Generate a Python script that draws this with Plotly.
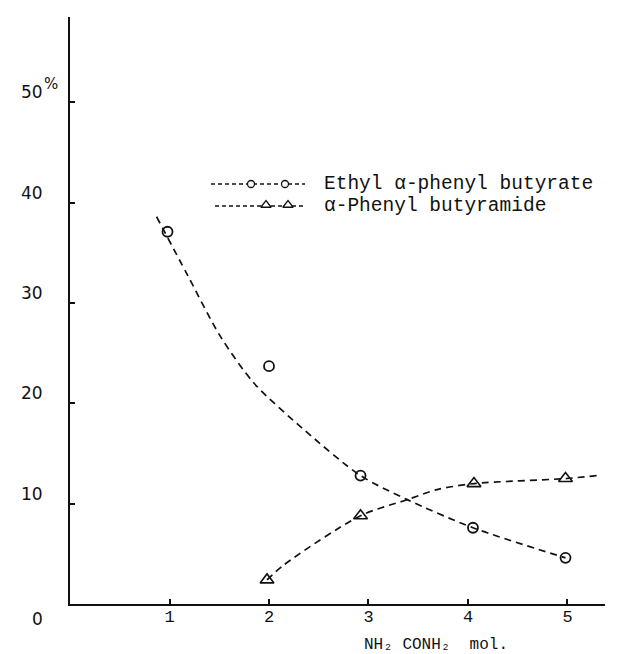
import plotly.graph_objects as go

# ---- data ----
ester_x = [0.98, 2.0, 2.92, 4.05, 4.98]
ester_y = [37.1, 23.7, 12.8, 7.6, 4.6]
amide_x = [1.98, 2.92, 4.06, 4.98]
amide_y = [2.4, 8.8, 12.0, 12.5]

# hand-drawn trend curves (control points)
ester_curve_x = [0.87, 1.18, 1.51, 1.85, 2.36, 2.92, 3.39, 4.05, 4.98]
ester_curve_y = [38.6, 32.8, 26.7, 22.0, 17.3, 12.8, 10.4, 7.6, 4.6]
amide_curve_x = [1.98, 2.15, 2.92, 3.39, 3.69, 4.06, 4.98, 5.30]
amide_curve_y = [2.4, 3.9, 8.8, 10.4, 11.4, 12.0, 12.5, 12.8]

x_ticks = [1, 2, 3, 4, 5]
x_tick_text = ["1", "2", "3", "4", "5"]
y_ticks = [10, 20, 30, 40, 50]
y_tick_text = ["10", "20", "30", "40", "50"]

series_names = ["Ethyl \u03b1-phenyl butyrate", "\u03b1-Phenyl butyramide"]
x_title = "NH\u2082\u00a0CONH\u2082\u00a0\u00a0mol."

INK = "#111111"
DASH = "7px,5px"
MONO = "Liberation Mono"

# plot area in pixels (for placing free text)
L, R, T, B = 62, 597, 9, 596


def px(xp, yp):
    return (xp - L) / (R - L), (B - yp) / (B - T)


fig = go.Figure()

fig.add_trace(go.Scatter(x=ester_curve_x, y=ester_curve_y, mode="lines",
                         line=dict(color=INK, width=1.7, dash=DASH, shape="spline", smoothing=0.8),
                         showlegend=False, hoverinfo="skip"))
fig.add_trace(go.Scatter(x=amide_curve_x, y=amide_curve_y, mode="lines",
                         line=dict(color=INK, width=1.7, dash=DASH, shape="spline", smoothing=0.8),
                         showlegend=False, hoverinfo="skip"))
fig.add_trace(go.Scatter(x=ester_x, y=ester_y, mode="markers", name=series_names[0],
                         marker=dict(symbol="circle-open", size=10, color=INK, line=dict(width=1.8)),
                         showlegend=False))
fig.add_trace(go.Scatter(x=amide_x, y=amide_y, mode="markers", name=series_names[1],
                         marker=dict(symbol="triangle-up-open", size=12, color=INK, line=dict(width=1.6)),
                         showlegend=False))

# ---- legend key drawn on a pixel overlay axis ----
key_rows_y = [176, 198]
fig.add_trace(go.Scatter(x=[203, 297], y=[key_rows_y[0]] * 2, xaxis="x2", yaxis="y2", mode="lines",
                         line=dict(color=INK, width=1.3, dash="4px,3px"), showlegend=False, hoverinfo="skip"))
fig.add_trace(go.Scatter(x=[243, 277], y=[key_rows_y[0]] * 2, xaxis="x2", yaxis="y2", mode="markers",
                         marker=dict(symbol="circle", size=7, color="white", line=dict(color=INK, width=1.3)),
                         showlegend=False, hoverinfo="skip"))
fig.add_trace(go.Scatter(x=[207, 297], y=[key_rows_y[1]] * 2, xaxis="x2", yaxis="y2", mode="lines",
                         line=dict(color=INK, width=1.3, dash="4px,3px"), showlegend=False, hoverinfo="skip"))
fig.add_trace(go.Scatter(x=[258, 280], y=[key_rows_y[1] - 1] * 2, xaxis="x2", yaxis="y2", mode="markers",
                         marker=dict(symbol="triangle-up", size=9, color="white", line=dict(color=INK, width=1.3)),
                         showlegend=False, hoverinfo="skip"))

annotations = []
for name, yy in zip(series_names, key_rows_y):
    annotations.append(dict(x=314, y=yy, xref="x2", yref="y2", text=name, showarrow=False,
                            xanchor="left", yanchor="middle",
                            font=dict(family=MONO, size=19.5, color=INK)))

pct_x, pct_y = px(43, 76)
annotations.append(dict(x=pct_x, y=pct_y, xref="paper", yref="paper", text="%", showarrow=False,
                        xanchor="center", yanchor="middle",
                        font=dict(family="DejaVu Sans", size=15, color=INK)))
zero_x, zero_y = px(37, 611)
annotations.append(dict(x=zero_x, y=zero_y, xref="paper", yref="paper", text="0", showarrow=False,
                        xanchor="right", yanchor="middle",
                        font=dict(family="DejaVu Sans", size=17, color=INK)))
tit_x, tit_y = px(428, 637)
annotations.append(dict(x=tit_x, y=tit_y, xref="paper", yref="paper", text=x_title, showarrow=False,
                        xanchor="center", yanchor="middle",
                        font=dict(family=MONO, size=16, color=INK)))

fig.update_layout(
    width=623, height=654, autosize=False,
    margin=dict(l=L, r=623 - R, t=T, b=654 - B, pad=0),
    paper_bgcolor="white", plot_bgcolor="white",
    showlegend=False,
    xaxis=dict(range=[0, 5.377], showline=True, linecolor=INK, linewidth=1.8,
               ticks="inside", ticklen=5, tickwidth=1.5, tickcolor=INK,
               tickvals=x_ticks, ticktext=x_tick_text, showgrid=False, zeroline=False,
               tickfont=dict(family=MONO, size=17, color=INK), ticklabelstandoff=-4),
    yaxis=dict(range=[0, 58.5], showline=True, linecolor=INK, linewidth=1.8,
               ticks="inside", ticklen=5, tickwidth=1.5, tickcolor=INK,
               tickvals=y_ticks, ticktext=y_tick_text, showgrid=False, zeroline=False,
               tickfont=dict(family="DejaVu Sans", size=17, color=INK),
               ticklabelstandoff=22, ticklabelshift=-10),
    xaxis2=dict(overlaying="x", range=[L, R], visible=False, fixedrange=True),
    yaxis2=dict(overlaying="y", range=[B, T], visible=False, fixedrange=True),
    annotations=annotations,
)

fig.write_html("out.html")
